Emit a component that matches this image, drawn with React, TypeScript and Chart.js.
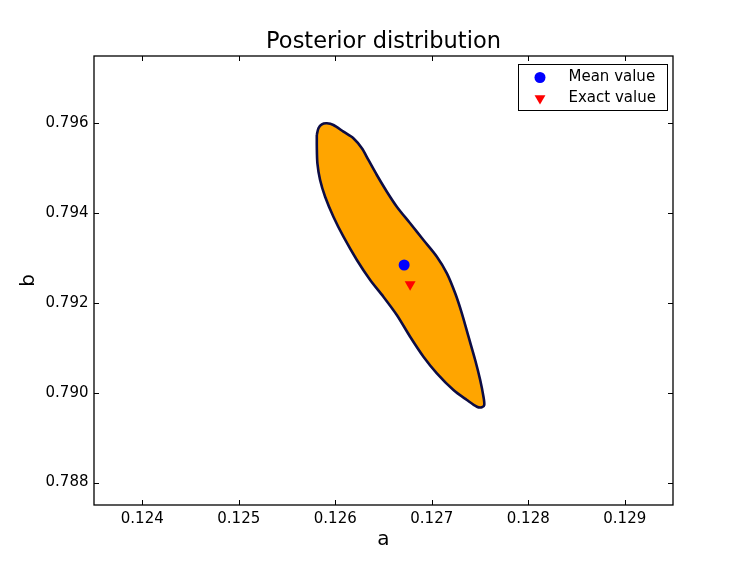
import React, { useEffect, useRef } from "react";
import { Chart, registerables } from "chart.js";

Chart.register(...registerables);

const TITLE = "Posterior distribution";
const X_LABEL = "a";
const Y_LABEL = "b";
const X_MIN = 0.1235;
const X_MAX = 0.1295;
const Y_MIN = 0.7875;
const Y_MAX = 0.7975;
const X_TICKS = [0.124, 0.125, 0.126, 0.127, 0.128, 0.129];
const Y_TICKS = [0.788, 0.79, 0.792, 0.794, 0.796];

const CONTOUR_A = [
  0.125809, 0.125826, 0.125861, 0.125913, 0.125981, 0.126085, 0.126188, 0.126276,
  0.126344, 0.126431, 0.126535, 0.126638, 0.126776, 0.126914, 0.127053, 0.127157,
  0.127243, 0.127312, 0.127381, 0.12745, 0.127502, 0.127536, 0.127544, 0.12752,
  0.127468, 0.127364, 0.127225, 0.127053, 0.126914, 0.126776, 0.126638, 0.126499,
  0.126362, 0.126224, 0.126085, 0.125981, 0.125895, 0.125843, 0.125815, 0.125809,
  0.125809,
];
const CONTOUR_B = [
  0.795741, 0.79589, 0.795979, 0.796001, 0.795963, 0.795814, 0.795667, 0.795444,
  0.795184, 0.79485, 0.794478, 0.794144, 0.793774, 0.793402, 0.79303, 0.79266,
  0.792215, 0.791769, 0.791248, 0.790729, 0.790284, 0.789912, 0.789727, 0.789676,
  0.789689, 0.789839, 0.790061, 0.790433, 0.790803, 0.791248, 0.791732, 0.792139,
  0.792511, 0.792957, 0.793476, 0.793921, 0.794366, 0.794738, 0.79511, 0.79548,
  0.795741,
];
const MEAN_A = [0.126714];
const MEAN_B = [0.792845];
const EXACT_A = [0.126776];
const EXACT_B = [0.792413];

const FONT = "'DejaVu Sans', sans-serif";

const frameAndExtras = {
  id: "frameAndExtras",
  afterDraw(chart: any) {
    const { ctx, chartArea } = chart;
    const { left, right, top, bottom } = chartArea;
    const xs = chart.scales.x;
    const ys = chart.scales.y;
    ctx.save();
    // ticks (inward on all sides)
    ctx.strokeStyle = "#000";
    ctx.lineWidth = 1;
    const tl = 5;
    ctx.beginPath();
    X_TICKS.forEach((v) => {
      const px = Math.round(xs.getPixelForValue(v)) + 0.5;
      ctx.moveTo(px, bottom);
      ctx.lineTo(px, bottom - tl);
      ctx.moveTo(px, top);
      ctx.lineTo(px, top + tl);
    });
    Y_TICKS.forEach((v) => {
      const py = Math.round(ys.getPixelForValue(v)) + 0.5;
      ctx.moveTo(left, py);
      ctx.lineTo(left + tl, py);
      ctx.moveTo(right, py);
      ctx.lineTo(right - tl, py);
    });
    ctx.stroke();
    // frame
    ctx.lineWidth = 1.3;
    ctx.strokeStyle = "#000";
    ctx.strokeRect(left, top, right - left, bottom - top);

    // title
    ctx.fillStyle = "#000";
    ctx.font = `22.5px ${FONT}`;
    ctx.textAlign = "center";
    ctx.textBaseline = "alphabetic";
    ctx.fillText(TITLE, (left + right) / 2, top - 7.7);

    // legend
    const ds = chart.data.datasets;
    const items = [ds[0], ds[1]];
    const bw = 149;
    const bh = 46;
    const bx = right - 6 - bw;
    const by = top + 8;
    ctx.fillStyle = "#fff";
    ctx.fillRect(bx, by, bw, bh);
    ctx.lineWidth = 1;
    ctx.strokeStyle = "#000";
    ctx.strokeRect(bx + 0.5, by + 0.5, bw, bh);
    ctx.font = `15px ${FONT}`;
    ctx.textAlign = "left";
    ctx.textBaseline = "middle";
    items.forEach((d: any, i: number) => {
      const cy = by + 13.5 + i * 20.8;
      const cx = bx + 22;
      ctx.fillStyle = d.backgroundColor;
      ctx.beginPath();
      if (d.pointStyle === "triangle") {
        const r = 6.3;
        ctx.moveTo(cx - r * 0.866, cy - r * 0.5);
        ctx.lineTo(cx + r * 0.866, cy - r * 0.5);
        ctx.lineTo(cx, cy + r);
        ctx.closePath();
      } else {
        ctx.arc(cx, cy, 5.5, 0, Math.PI * 2);
      }
      ctx.fill();
      ctx.fillStyle = "#000";
      ctx.fillText(d.label, bx + 50.5, cy);
    });
    ctx.restore();
  },
};

export default function App() {
  const ref = useRef<HTMLCanvasElement | null>(null);
  useEffect(() => {
    document.body.style.margin = "0";
    const canvas = ref.current;
    if (!canvas) return;
    const contour = CONTOUR_A.map((a, i) => ({ x: a, y: CONTOUR_B[i] }));
    const mean = MEAN_A.map((a, i) => ({ x: a, y: MEAN_B[i] }));
    const exact = EXACT_A.map((a, i) => ({ x: a, y: EXACT_B[i] }));
    const chart = new Chart(canvas, {
      type: "line",
      data: {
        datasets: [
          {
            label: "Mean value",
            data: mean,
            showLine: false,
            pointStyle: "circle",
            pointRadius: 5.5,
            pointBorderWidth: 0,
            backgroundColor: "#0000ff",
            borderColor: "#0000ff",
            order: 0,
          },
          {
            label: "Exact value",
            data: exact,
            showLine: false,
            pointStyle: "triangle",
            pointRotation: 180,
            pointRadius: 6.3,
            pointBorderWidth: 0,
            backgroundColor: "#ff0000",
            borderColor: "#ff0000",
            order: 0,
          },
          {
            label: "contour",
            data: contour,
            showLine: true,
            fill: "shape",
            backgroundColor: "#ffa500",
            borderColor: "#0c0c45",
            borderWidth: 2.6,
            pointRadius: 0,
            tension: 0.3,
            order: 1,
          },
        ] as any,
      },
      options: {
        animation: false,
        responsive: false,
        events: [],
        layout: { padding: { top: 56, right: 74, left: 0, bottom: 0 } },
        plugins: {
          legend: { display: false },
          tooltip: { enabled: false },
          title: { display: false },
        },
        scales: {
          x: {
            type: "linear",
            min: X_MIN,
            max: X_MAX,
            grid: { display: false, drawTicks: false },
            border: { display: false },
            afterBuildTicks: (s: any) => {
              s.ticks = X_TICKS.map((v) => ({ value: v }));
            },
            afterFit: (s: any) => {
              s.height = 56;
            },
            ticks: {
              padding: 5,
              maxRotation: 0,
              color: "#000",
              font: { family: FONT, size: 15 },
              callback: (v: any) => Number(v).toFixed(3),
            },
            title: {
              display: true,
              text: X_LABEL,
              color: "#000",
              font: { family: FONT, size: 20 },
              padding: { top: 0, bottom: 9 },
            },
          },
          y: {
            type: "linear",
            min: Y_MIN,
            max: Y_MAX,
            grid: { display: false, drawTicks: false },
            border: { display: false },
            afterBuildTicks: (s: any) => {
              s.ticks = Y_TICKS.map((v) => ({ value: v }));
            },
            afterFit: (s: any) => {
              s.width = 94;
            },
            ticks: {
              padding: 5.5,
              color: "#000",
              font: { family: FONT, size: 15 },
              callback: (v: any) => Number(v).toFixed(3),
            },
            title: {
              display: true,
              text: Y_LABEL,
              color: "#000",
              font: { family: FONT, size: 20 },
              padding: { top: 17, bottom: 0 },
            },
          },
        },
      } as any,
      plugins: [frameAndExtras],
    });
    return () => chart.destroy();
  }, []);
  return (
    <div style={{ position: "absolute", left: 0, top: 0, width: 747, height: 561, background: "#fff" }}>
      <canvas ref={ref} width={747} height={561} style={{ display: "block" }} />
    </div>
  );
}
